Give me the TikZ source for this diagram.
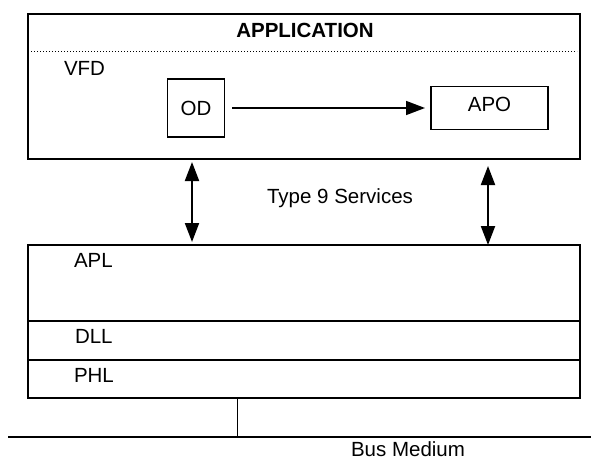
\documentclass[tikz,border=0pt]{standalone}
\usepackage{fontspec}
\setmainfont{Liberation Sans}
\usetikzlibrary{arrows.meta}
\begin{document}
\begin{tikzpicture}[x=1pt,y=-1pt,
  every node/.style={font=\fontsize{20.5}{24}\selectfont, inner sep=0pt, outer sep=0pt},
  frame/.style={draw, line width=1.5pt, rectangle},
  lab/.style={anchor=west},
  arr/.style={line width=1.6pt, -{Triangle[length=19pt,width=14pt]}},
  dbl/.style={line width=2pt, {Triangle[length=19pt,width=14pt]}-{Triangle[length=19pt,width=14pt]}}
]
\useasboundingbox (0,0) rectangle (591,460);
% application box
\node[frame, minimum width=552pt, minimum height=145pt] (app) at (304,86.5) {};
\node[font=\fontsize{20.5}{24}\selectfont\bfseries] (title) at (305,30) {APPLICATION};
\draw[line width=1pt, dotted] (31,52) -- (577,52);
\node (vfd) at (84.5,68) {VFD};
\node[frame, minimum width=57pt, minimum height=58pt] (od) at (196,108) {OD};
\node[frame, minimum width=117pt, minimum height=43pt, text depth=8pt] (apo) at (489.5,108) {APO};
\draw[arr, shorten <=7.5pt, shorten >=6pt] (od) -- (apo);
% services arrows
\coordinate (l1) at (192,162);
\coordinate (l2) at (192,242);
\coordinate (r1) at (488,166);
\coordinate (r2) at (488,245);
\draw[dbl] (l1) -- (l2);
\draw[dbl] (r1) -- (r2);
\node (svc) at (340,198) {Type 9 Services};
% stack
\node[frame, minimum width=552pt, minimum height=76pt] (apl) at (304,283) {};
\node[frame, minimum width=552pt, minimum height=39pt] (dll) at (304,340.5) {};
\node[frame, minimum width=552pt, minimum height=38pt] (phl) at (304,379) {};
\node[lab] (apltxt) at (74,260) {APL};
\node[lab] (dlltxt) at (75,336.7) {DLL};
\node[lab] (phltxt) at (74,375.7) {PHL};
% bus
\coordinate (busl) at (8,437);
\coordinate (busr) at (591,437);
\coordinate (tap) at (237.7,437);
\draw[line width=1.5pt] (busl) -- (busr);
\draw[line width=1.3pt] (phl.south -| tap) -- (tap);
\node (bus) at (408,449.5) {Bus Medium};
\end{tikzpicture}
\end{document}
